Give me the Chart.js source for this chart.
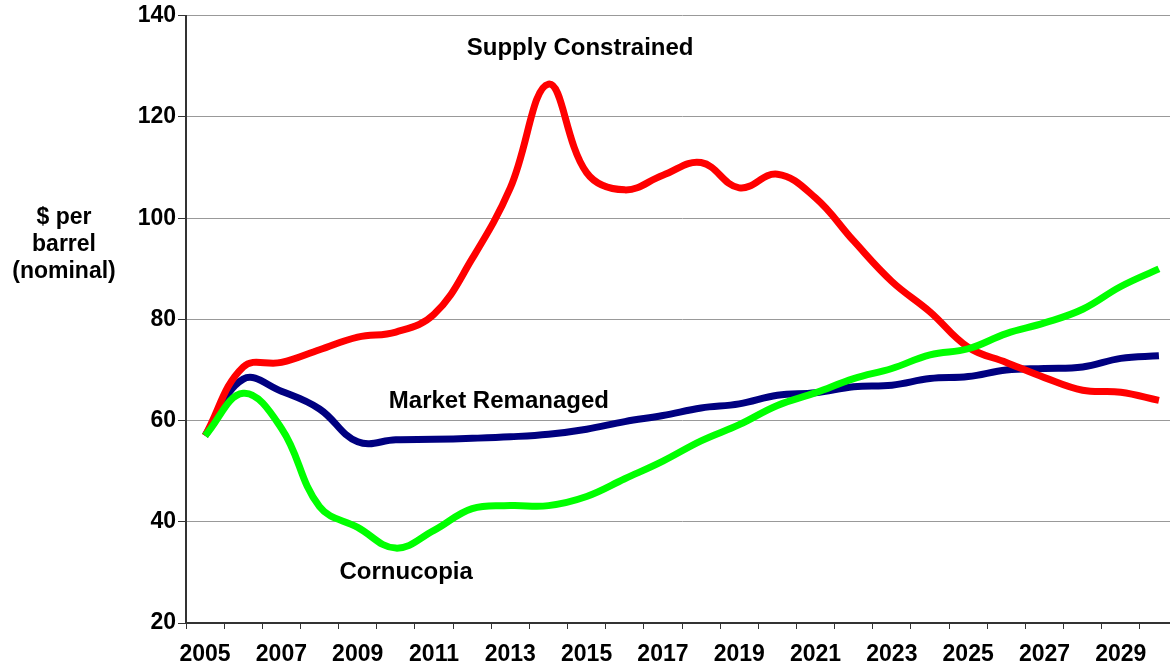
<!DOCTYPE html>
<html>
<head>
<meta charset="utf-8">
<script src="https://cdn.jsdelivr.net/npm/chart.js@4/dist/chart.umd.min.js"></script>
<style>
    html, body { margin: 0; padding: 0; background: #fff; overflow: hidden; }
    #wrap { width: 1170px; height: 669px; overflow: hidden; }
</style>
</head>
<body>
<div id="wrap"><canvas id="oilChart" width="1180" height="669"></canvas></div>
<script>
        // Years on the x axis
        const years = ['2005', '2006', '2007', '2008', '2009', '2010', '2011', '2012', '2013',
            '2014', '2015', '2016', '2017', '2018', '2019', '2020', '2021', '2022', '2023',
            '2024', '2025', '2026', '2027', '2028', '2029', '2030'];

        // Oil price scenarios ($ per barrel, nominal)
        const supplyConstrained = [57, 70.6, 71.5, 74, 76.5, 77.5, 81, 92, 106, 126.5, 109, 105.6, 108.5,
            111, 106, 108.7, 104, 95.5, 87.5, 81.5, 74.5, 71.5, 68.5, 66, 65.6, 64];
        const marketRemanaged = [57, 68.2, 65.8, 62.3, 55.8, 56.2, 56.3, 56.5, 56.8, 57.3, 58.3, 59.8, 61,
            62.5, 63.3, 65, 65.5, 66.7, 67, 68.3, 68.7, 70, 70.3, 70.6, 72.3, 72.8];
        const cornucopia = [57, 65.4, 58.5, 43, 38.9, 34.8, 38.3, 42.6, 43.2, 43.2, 45, 48.5, 52,
            56, 59.2, 63, 65.5, 68.3, 70.3, 73, 74.2, 77.2, 79.3, 82, 86.5, 90];

        const yTicks = [20, 40, 60, 80, 100, 120, 140];

        const fontFamily = '"Liberation Sans", Arial, sans-serif';

        // Scenario names written on the plot
        const scenarioLabels = [
            { text: 'Supply Constrained', x: 9.83, y: 133.6 },
            { text: 'Market Remanaged', x: 7.7, y: 63.8 },
            { text: 'Cornucopia', x: 5.27, y: 30.1 }
        ];

        const textPlugin = {
            id: 'chartText',
            afterDatasetsDraw(chart) {
                const ctx = chart.ctx;
                const xs = chart.scales.x;
                const ys = chart.scales.y;
                ctx.save();
                ctx.fillStyle = '#000';
                ctx.textAlign = 'center';
                ctx.textBaseline = 'middle';
                ctx.font = 'bold 24px ' + fontFamily;
                scenarioLabels.forEach(l => {
                    ctx.fillText(l.text, xs.getPixelForValue(l.x), ys.getPixelForValue(l.y));
                });
                // y axis title, kept horizontal
                ctx.font = 'bold 23px ' + fontFamily;
                ['$ per', 'barrel', '(nominal)'].forEach((line, i) => {
                    ctx.fillText(line, 64, 218 + i * 27);
                });
                ctx.restore();
            }
        };

        const ctx = document.getElementById('oilChart').getContext('2d');
        new Chart(ctx, {
            type: 'line',
            data: {
                labels: years,
                datasets: [{
                    label: 'Cornucopia',
                    data: cornucopia,
                    borderColor: '#00ff00',
                    borderWidth: 7,
                    tension: 0.4,
                    pointRadius: 0,
                    fill: false
                }, {
                    label: 'Supply Constrained',
                    data: supplyConstrained,
                    borderColor: '#ff0000',
                    borderWidth: 7,
                    tension: 0.4,
                    pointRadius: 0,
                    fill: false
                }, {
                    label: 'Market Remanaged',
                    data: marketRemanaged,
                    borderColor: '#000080',
                    borderWidth: 7,
                    tension: 0.4,
                    pointRadius: 0,
                    fill: false
                }]
            },
            options: {
                responsive: false,
                animation: false,
                devicePixelRatio: 1,
                layout: {
                    padding: { top: 13, right: 2, left: 0, bottom: 0 }
                },
                plugins: {
                    legend: { display: false },
                    tooltip: { enabled: false }
                },
                scales: {
                    x: {
                        offset: true,
                        grid: {
                            offset: true,
                            drawOnChartArea: false,
                            tickLength: 6,
                            color: '#333',
                            lineWidth: 1
                        },
                        border: { color: '#333', width: 2 },
                        ticks: {
                            autoSkip: false,
                            maxRotation: 0,
                            color: '#000',
                            padding: 12,
                            font: { family: fontFamily, size: 23, weight: 'bold' },
                            callback: function(value, index) {
                                return index % 2 === 0 ? this.getLabelForValue(value) : '';
                            }
                        },
                        afterFit: function(scale) {
                            scale.height = 46;
                        }
                    },
                    y: {
                        min: 20,
                        max: 140,
                        afterBuildTicks: function(scale) {
                            scale.ticks = yTicks.map(v => ({ value: v }));
                        },
                        grid: {
                            color: '#999',
                            lineWidth: 1,
                            tickLength: 8,
                            tickColor: '#333'
                        },
                        border: { color: '#333', width: 2 },
                        ticks: {
                            color: '#000',
                            padding: 2,
                            font: { family: fontFamily, size: 23, weight: 'bold' }
                        },
                        afterFit: function(scale) {
                            scale.width = 186;
                        }
                    }
                }
            },
            plugins: [textPlugin]
        });
</script>
</body>
</html>
